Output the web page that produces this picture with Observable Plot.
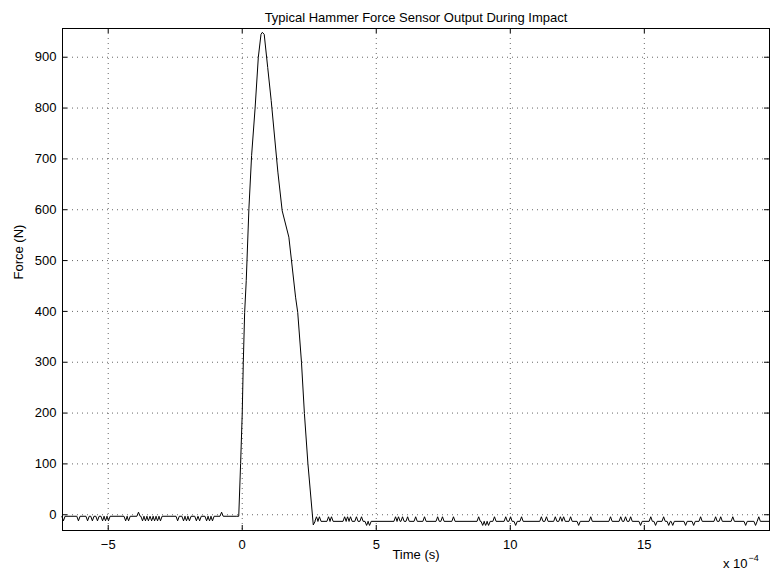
<!DOCTYPE html>
<html><head><meta charset="utf-8">
<script src="https://cdn.jsdelivr.net/npm/d3@7"></script>
<script src="https://cdn.jsdelivr.net/npm/@observablehq/plot@0.6"></script>
<style>
body{margin:0;background:#fff}
#chart{width:770px;height:575px}
</style>
</head><body><div id="chart"></div>
<script>
// ---- text ----
const title = "Typical Hammer Force Sensor Output During Impact";
const xLabel = "Time (s)";
const yLabel = "Force (N)";
const xMultiplier = "x 10";
const xExponent = "\u22124";

// ---- ticks (time in units of 1e-4 s) ----
const xTicks = [-5, 0, 5, 10, 15];
const yTicks = [0, 100, 200, 300, 400, 500, 600, 700, 800, 900];
const xDomain = [-6.705, 19.67];
const yDomain = [-31, 956.5];

// ---- impact pulse (time 1e-4 s, force N) ----
const pulseT = [-0.13, -0.06, 0.0, 0.04, 0.09, 0.15, 0.25, 0.35, 0.48, 0.60, 0.70, 0.75, 0.82, 0.95, 1.08, 1.33, 1.49, 1.74, 1.99, 2.07, 2.21, 2.32, 2.45, 2.65];
const pulseF = [-3, 101, 199, 300, 398, 461, 603, 707, 800, 900, 945, 949, 945, 880, 815, 674, 598, 546, 428, 398, 300, 199, 101, -20];

// ---- pre-impact noise ----
const preBase = -3;
const preDipLevel = -12;
const preDips = [-6.67, -6.11, -5.77, -5.59, -5.40, -5.21, -5.10, -4.99, -4.35, -4.24, -3.72, -3.61, -3.50, -3.38, -3.27, -3.16, -3.05, -2.41, -2.19, -2.08, -1.97, -1.71, -1.59, -1.33, -1.22, -1.11];
const preUpLevel = 5;
const preUps = [-3.87, -0.77];

// ---- post-impact noise ----
const postBase = -13;
const postUpLevel = -4;
const postUps = [2.77, 2.88, 3.22, 3.33, 3.82, 3.93, 4.04, 4.26, 4.45, 5.72, 5.83, 5.98, 6.17, 6.47, 6.80, 7.29, 7.47, 7.88, 8.82, 9.41, 9.83, 10.01, 10.42, 11.16, 11.35, 11.68, 11.87, 11.99, 12.25, 13.00, 13.74, 14.12, 14.30, 14.49, 15.24, 15.72, 17.10, 17.66, 17.85, 18.30, 19.27];
const postDownLevel = -21;
const postDowns = [4.64, 4.75, 8.97, 9.08, 9.19, 10.20, 12.55, 14.86, 15.42, 15.91, 16.06, 16.54, 16.84, 18.78, 19.15];
const tStart = -6.70, tEnd = 19.67;

// ---- build trace ----
const halfW = 0.06;
function noise(t0, t1, base, spikes) {
  const pts = [{t: t0, f: base}];
  spikes.sort((a, b) => a.t - b.t).forEach(s => {
    pts.push({t: s.t - halfW, f: base}, {t: s.t, f: s.f}, {t: s.t + halfW, f: base});
  });
  pts.push({t: t1, f: base});
  return pts;
}
const preSpikes = preDips.map(t => ({t, f: preDipLevel})).concat(preUps.map(t => ({t, f: preUpLevel})));
const postSpikes = postUps.map(t => ({t, f: postUpLevel})).concat(postDowns.map(t => ({t, f: postDownLevel})));
const trace = [
  ...noise(tStart, -0.2, preBase, preSpikes),
  ...pulseT.map((t, i) => ({t, f: pulseF[i]})),
  ...noise(2.72, tEnd, postBase, postSpikes)
];

const font = "'Liberation Sans', Arial, Helvetica, sans-serif";
const innerH = 575 - 28 - 45, innerW = 770 - 62 - 1;
const grid = {stroke: "#000", strokeOpacity: 0.6, strokeDasharray: "1,4", strokeWidth: 1};

const chart = Plot.plot({
  width: 770, height: 575,
  marginLeft: 62, marginRight: 1, marginTop: 28, marginBottom: 45,
  style: {fontFamily: font, fontSize: "13px", background: "#fff", color: "#000"},
  x: {domain: xDomain},
  y: {domain: yDomain},
  marks: [
    Plot.gridX(xTicks, grid),
    Plot.gridY(yTicks, grid),
    Plot.tickX(xTicks, {x: d => d, stroke: "#000", insetTop: innerH - 5}),
    Plot.tickX(xTicks, {x: d => d, stroke: "#000", insetBottom: innerH - 5}),
    Plot.tickY(yTicks, {y: d => d, stroke: "#000", insetRight: innerW - 5}),
    Plot.tickY(yTicks, {y: d => d, stroke: "#000", insetLeft: innerW - 5}),
    Plot.axisX(xTicks, {tickSize: 0, tickPadding: 9, fontSize: 13, label: null, fill: "#000"}),
    Plot.axisY(yTicks, {tickSize: 0, tickPadding: 6, fontSize: 13, label: null, fill: "#000"}),
    Plot.line(trace, {x: "t", y: "f", stroke: "#000", strokeWidth: 1}),
    Plot.frame({stroke: "#000", strokeWidth: 1}),
    Plot.text([title], {frameAnchor: "top", dy: -16, fontSize: 13, fill: "#000"}),
    Plot.text([xLabel], {frameAnchor: "bottom", dy: 28, fontSize: 13, fill: "#000"}),
    Plot.text([yLabel], {frameAnchor: "left", dx: -44, rotate: -90, fontSize: 13, fill: "#000"}),
    Plot.text([xMultiplier], {frameAnchor: "bottom-right", textAnchor: "end", dx: -22, dy: 37, fontSize: 13, fill: "#000"}),
    Plot.text([xExponent], {frameAnchor: "bottom-right", textAnchor: "start", dx: -21, dy: 30, fontSize: 9, fill: "#000"})
  ]
});
document.getElementById("chart").append(chart);
</script>
</body></html>
